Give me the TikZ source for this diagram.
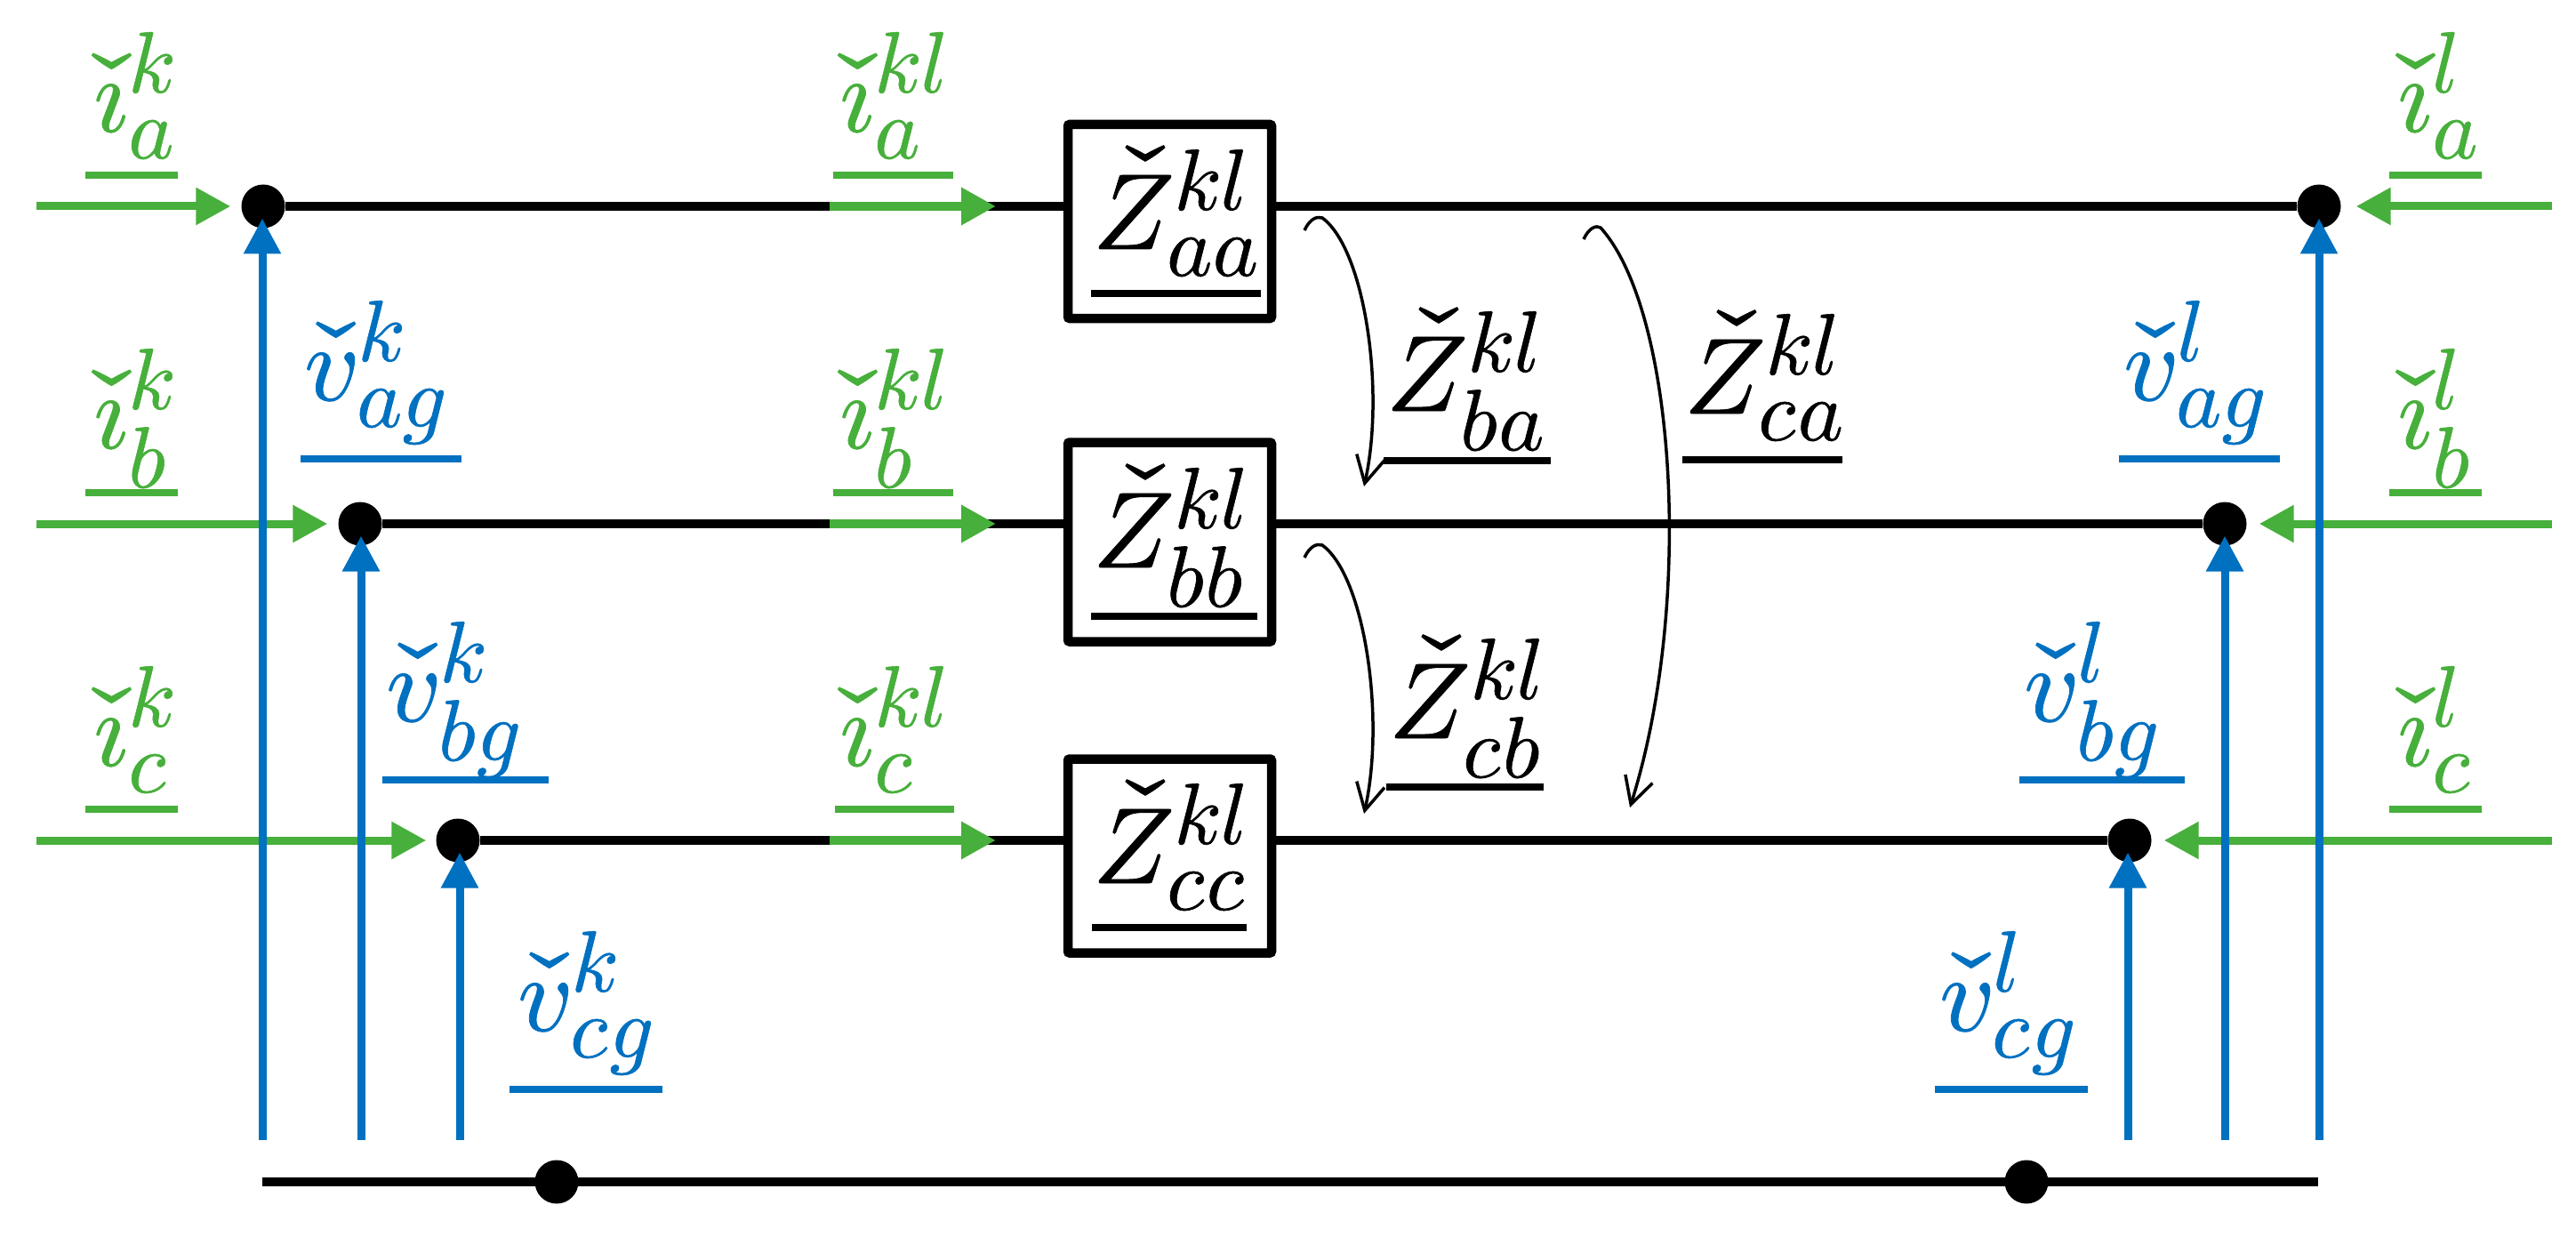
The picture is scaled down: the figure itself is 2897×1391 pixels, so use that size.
\documentclass[tikz,border=0pt]{standalone}
\usepackage{fontspec}
\usepackage{unicode-math}
\setmathfont{Latin Modern Math}[FakeBold=0.6]
\DeclareMathSizes{122}{122}{98}{80}
\usetikzlibrary{arrows.meta}
\definecolor{cgreen}{HTML}{47AF3B}
\definecolor{cblue}{HTML}{0070C0}
\tikzset{
  x=1bp,y=-1bp,
  lab/.style={anchor=base west,inner sep=0pt,outer sep=0pt,font=\fontsize{122}{130}\selectfont},
  green lab/.style={lab,text=cgreen},
  blue lab/.style={lab,text=cblue},
  dot/.style={circle,fill=black,inner sep=0pt,minimum size=49bp},
  wire/.style={line width=10bp,black},
  box/.style={draw=black,line width=10.5bp,rounded corners=2bp,minimum width=229bp,inner sep=0pt,fill=white},
  green arrow/.style={line width=9bp,cgreen,-{Triangle[length=39bp,width=40bp]}},
  inner arrow/.style={line width=10bp,cgreen,-{Triangle[length=39bp,width=40bp]}},
  blue arrow/.style={line width=9bp,cblue,-{Triangle[length=40bp,width=40bp]}},
  gul/.style={line width=8bp,cgreen},
  bul/.style={line width=8bp,cblue},
  kul/.style={line width=8.5bp,black},
  coupling/.style={line width=3.5bp,black,-{Straight Barb[length=30bp,width=32bp,line width=3.5bp]}},
}
\begin{document}
\begin{tikzpicture}
\useasboundingbox (0,0) rectangle (2897,1391);
% nodes
\node[dot] (ka) at (296,232) {};
\node[dot] (kb) at (405,589) {};
\node[dot] (kc) at (515,945) {};
\node[dot] (la) at (2608,232) {};
\node[dot] (lb) at (2502,589) {};
\node[dot] (lc) at (2395,945) {};
\node[box,minimum height=218bp] (Zaa) at (1315.5,249) {};
\node[box,minimum height=224bp] (Zbb) at (1315.5,609.5) {};
\node[box,minimum height=218bp] (Zcc) at (1315.5,962.5) {};
\coordinate (g0) at (295,1329);
\coordinate (g1) at (2607,1329);
% wires
\draw[wire] (ka) -- (ka -| Zaa.west);
\draw[wire] (Zaa.east |- la) -- (la);
\draw[wire] (kb) -- (kb -| Zbb.west);
\draw[wire] (Zbb.east |- lb) -- (lb);
\draw[wire] (kc) -- (kc -| Zcc.west);
\draw[wire] (Zcc.east |- lc) -- (lc);
\draw[wire] (g0) -- (g1);
\node[dot] (gk) at (626,1329) {};
\node[dot] (gl) at (2279,1329) {};
% green end arrows
\coordinate (ika) at (41,232); \coordinate (ikb) at (41,589); \coordinate (ikc) at (41,945);
\coordinate (ila) at (2870,232); \coordinate (ilb) at (2870,589); \coordinate (ilc) at (2870,945);
\draw[green arrow,shorten >=12bp] (ika) -- (ka);
\draw[green arrow,shorten >=12bp] (ikb) -- (kb);
\draw[green arrow,shorten >=11bp] (ikc) -- (kc);
\draw[green arrow,shorten >=17bp] (ila) -- (la);
\draw[green arrow,shorten >=14bp] (ilb) -- (lb);
\draw[green arrow,shorten >=14bp] (ilc) -- (lc);
% green inner arrows
\coordinate (ia0) at (933,232); \coordinate (ia1) at (1120,232);
\coordinate (ib0) at (933,589); \coordinate (ib1) at (1120,589);
\coordinate (ic0) at (933,945); \coordinate (ic1) at (1120,945);
\draw[inner arrow] (ia0) -- (ia1);
\draw[inner arrow] (ib0) -- (ib1);
\draw[inner arrow] (ic0) -- (ic1);
% blue arrows
\coordinate (vka) at (295,1282); \coordinate (vkb) at (406,1282); \coordinate (vkc) at (517,1282);
\coordinate (vla) at (2608,1282); \coordinate (vlb) at (2502,1282); \coordinate (vlc) at (2393,1282);
\foreach \a/\b in {vka/ka,vkb/kb,vkc/kc,vla/la,vlb/lb,vlc/lc}
  \draw[blue arrow,shorten >=13.5bp] (\a) -- (\a |- \b.center);
% coupling arrows
\coordinate (cba0) at (1467,259); \coordinate (cbat) at (1487,245); \coordinate (cba1) at (1534,547);
\coordinate (ccb0) at (1467,627); \coordinate (ccbt) at (1487,613); \coordinate (ccb1) at (1534,915);
\coordinate (cca0) at (1781,269); \coordinate (ccat) at (1800,256); \coordinate (cca1) at (1833,908);
\draw[coupling] (cba0) .. controls (1473,246) and (1481,243) .. (cbat) .. controls (1535,280) and (1558,440) .. (cba1);
\draw[coupling] (ccb0) .. controls (1473,614) and (1481,611) .. (ccbt) .. controls (1535,648) and (1558,808) .. (ccb1);
\draw[coupling] (cca0) .. controls (1787,256) and (1795,253) .. (ccat) .. controls (1885,350) and (1905,680) .. (cca1);
% labels
\node[green lab] (tika) at (105,148) {$\check{\imath}^{k}_{a}$};
\node[green lab] (tikb) at (105,504) {$\check{\imath}^{k}_{b}$};
\node[green lab] (tikc) at (105,861) {$\check{\imath}^{k}_{c}$};
\node[green lab] (tiaa) at (944,148) {$\check{\imath}^{kl}_{a}$};
\node[green lab] (tibb) at (944,504) {$\check{\imath}^{kl}_{b}$};
\node[green lab] (ticc) at (944,861) {$\check{\imath}^{kl}_{c}$};
\node[green lab] (tila) at (2696,148) {$\check{\imath}^{l}_{a}$};
\node[green lab] (tilb) at (2696,504) {$\check{\imath}^{l}_{b}$};
\node[green lab] (tilc) at (2696,861) {$\check{\imath}^{l}_{c}$};
\node[blue lab] (tvka) at (342,450) {$\check{v}^{k}_{ag}$};
\node[blue lab] (tvkb) at (434,811) {$\check{v}^{k}_{bg}$};
\node[blue lab] (tvkc) at (582,1159) {$\check{v}^{k}_{cg}$};
\node[blue lab] (tvla) at (2388,450) {$\check{v}^{l}_{ag}$};
\node[blue lab] (tvlb) at (2276,811) {$\check{v}^{l}_{bg}$};
\node[blue lab] (tvlc) at (2181,1159) {$\check{v}^{l}_{cg}$};
\node[lab] (tzaa) at (1229,280) {$\check{Z}^{kl}_{aa}$};
\node[lab] (tzbb) at (1229,638) {$\check{Z}^{kl}_{bb}$};
\node[lab] (tzcc) at (1229,993) {$\check{Z}^{kl}_{cc}$};
\node[lab] (tzba) at (1559,462) {$\check{Z}^{kl}_{ba}$};
\node[lab] (tzca) at (1894,465) {$\check{Z}^{kl}_{ca}$};
\node[lab] (tzcb) at (1562,830) {$\check{Z}^{kl}_{cb}$};
% underlines
\foreach \xa/\xb/\y in {96/200/197.5,96/200/553.5,96/200/910,937/1072/197.5,937/1072/553.5,939/1073/910,2687/2791/197.5,2687/2791/553.5,2687/2791/910}
  \draw[gul] (\xa,\y) -- (\xb,\y);
\foreach \xa/\xb/\y in {338/519/515.5,430/617/877,573/745/1225,2383/2564/515.5,2271/2457/877,2176/2348/1225}
  \draw[bul] (\xa,\y) -- (\xb,\y);
\foreach \xa/\xb/\y in {1227/1418/330,1227/1414/693,1228/1402/1043,1556/1744/518,1892/2072/517,1559/1736/885}
  \draw[kul] (\xa,\y) -- (\xb,\y);
\end{tikzpicture}
\end{document}
